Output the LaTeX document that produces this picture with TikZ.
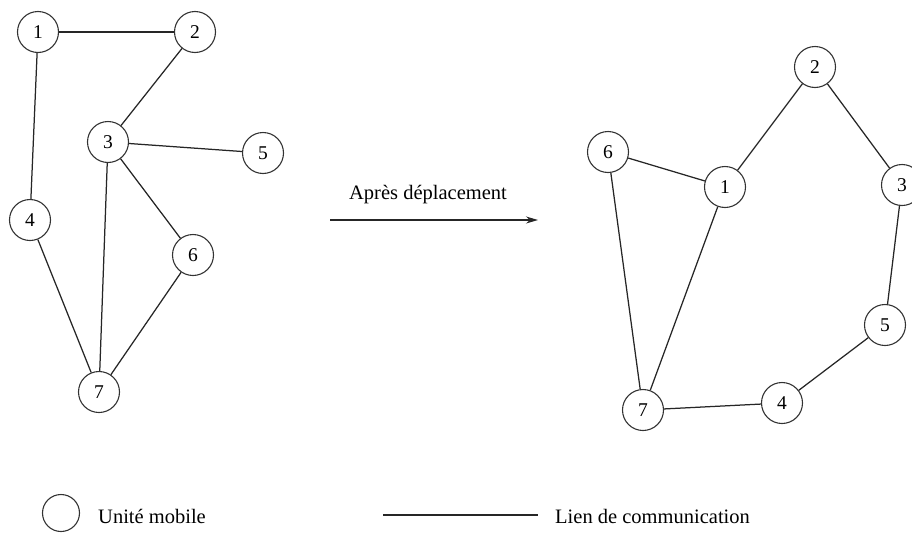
\documentclass[tikz,border=0pt]{standalone}
\usepackage{fontspec}
\setmainfont{Liberation Serif}
\usetikzlibrary{arrows.meta}
\begin{document}
\begin{tikzpicture}[x=1pt,y=-1pt,
  mob/.style={circle, draw=black!80, line width=1.1pt, minimum size=41pt, inner sep=0pt, font=\fontsize{19.5}{22}\selectfont},
  lien/.style={draw=black!85, line width=1.25pt},
  lbl/.style={font=\fontsize{20.5}{24}\selectfont, inner sep=0pt}]
\useasboundingbox (0,0) rectangle (912,533);
\clip (0,0) rectangle (912,533);
% left graph
\node[mob] (a1) at (38,32) {1};
\node[mob] (a2) at (195,32) {2};
\node[mob] (a3) at (108,142) {3};
\node[mob] (a5) at (263,153) {5};
\node[mob] (a4) at (30,220) {4};
\node[mob] (a6) at (193,255) {6};
\node[mob] (a7) at (99,392) {7};
\draw[lien] (a1) -- (a2);
\draw[lien] (a1) -- (a4);
\draw[lien] (a2) -- (a3);
\draw[lien] (a3) -- (a5);
\draw[lien] (a3) -- (a7);
\draw[lien] (a3) -- (a6);
\draw[lien] (a4) -- (a7);
\draw[lien] (a6) -- (a7);
% arrow
\coordinate (s) at (330,220);
\coordinate (e) at (538,220);
\draw[lien, -{Stealth[length=12pt,width=7pt]}] (s) -- (e);
\node[lbl] (arr) at (428,195) {Après déplacement};
% right graph
\node[mob] (b2) at (815,67) {2};
\node[mob] (b6) at (608,152) {6};
\node[mob] (b1) at (725,187) {1};
\node[mob] (b3) at (902,185) {3};
\node[mob] (b5) at (885,325) {5};
\node[mob] (b4) at (782,403) {4};
\node[mob] (b7) at (643,410) {7};
\draw[lien] (b6) -- (b1);
\draw[lien] (b1) -- (b2);
\draw[lien] (b2) -- (b3);
\draw[lien] (b3) -- (b5);
\draw[lien] (b5) -- (b4);
\draw[lien] (b4) -- (b7);
\draw[lien] (b7) -- (b1);
\draw[lien] (b6) -- (b7);
% legend
\node[mob, minimum size=37pt] (leg) at (61,513) {};
\node[lbl, anchor=west] (legt) at (98,516) {Unité mobile};
\coordinate (l1) at (383,515);
\coordinate (l2) at (538,515);
\draw[lien] (l1) -- (l2);
\node[lbl, anchor=west] (legl) at (555,516) {Lien de communication};
\end{tikzpicture}
\end{document}
